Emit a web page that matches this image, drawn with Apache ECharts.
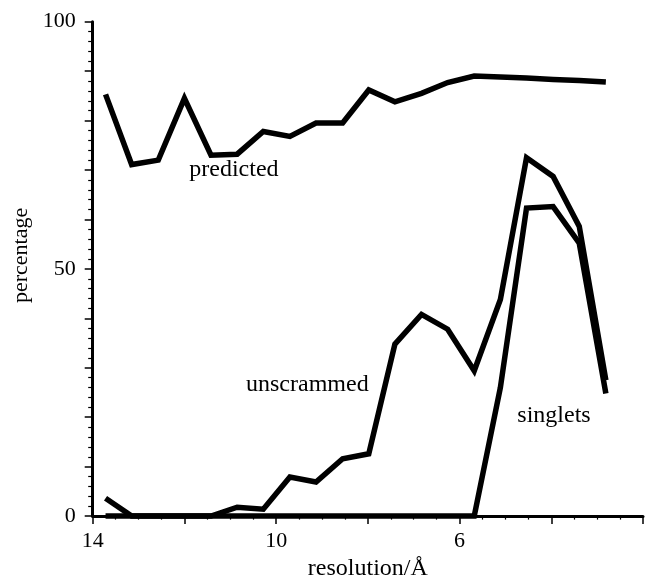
<!DOCTYPE html>
<html>
<head>
<meta charset="utf-8">
<script src="https://cdn.jsdelivr.net/npm/echarts@6/dist/echarts.min.js"></script>
<style>
html,body{margin:0;padding:0;background:#fff;}
#chart{width:646px;height:586px;}
</style>
</head>
<body>
<div id="chart"></div>
<script>
// resolution (Å) of each data point
const resolution = [13.72, 13.15, 12.57, 12.00, 11.42, 10.85, 10.28, 9.70, 9.13, 8.55, 7.98, 7.41, 6.83, 6.26, 5.68, 5.11, 4.54, 3.96, 3.39, 2.81];
const predicted  = [85.3, 71.1, 72.0, 84.5, 73.0, 73.2, 77.8, 76.8, 79.5, 79.5, 86.2, 83.8, 85.5, 87.7, 89.0, 88.8, 88.6, 88.3, 88.1, 87.8];
const unscrammed = [3.6, 0, 0, 0, 0, 1.8, 1.4, 7.9, 6.9, 11.6, 12.6, 34.8, 40.8, 37.8, 29.4, 43.8, 72.5, 68.7, 58.6, 27.5];
const singlets   = [0, 0, 0, 0, 0, 0, 0, 0, 0, 0, 0, 0, 0, 0, 0, 26.0, 62.3, 62.6, 55.2, 24.8];
const xTickLabels = [14, 10, 6];
const yTickLabels = [0, 50, 100];
const seriesNames = ['predicted', 'unscrammed', 'singlets'];

const FONT = 'Liberation Serif';
const chart = echarts.init(document.getElementById('chart'), null, {renderer: 'canvas'});

function pairs(ys) { return resolution.map((x, i) => [x, ys[i]]); }

function lineSeries(name, ys, labelCoord) {
  return {
    name: name,
    type: 'line',
    data: pairs(ys),
    symbol: 'none',
    clip: false,
    lineStyle: {color: '#000', width: 5.5, join: 'miter', miterLimit: 4, cap: 'butt'},
    animation: false,
    markPoint: {
      silent: true,
      symbol: 'circle',
      symbolSize: 0,
      label: {show: true, position: 'inside', formatter: name, color: '#000', fontFamily: FONT, fontSize: 24},
      data: [{coord: labelCoord}]
    }
  };
}

chart.setOption({
  backgroundColor: '#fff',
  animation: false,
  grid: {left: 92.7, top: 21.7, width: 582.6, height: 499.3, containLabel: false},
  xAxis: {
    type: 'value',
    inverse: true,
    min: 2, max: 14, interval: 2,
    name: 'resolution/Å',
    nameLocation: 'middle',
    nameGap: 40,
    nameTextStyle: {color: '#000', fontFamily: FONT, fontSize: 24},
    axisLine: {show: true, lineStyle: {color: '#000', width: 3}},
    axisTick: {show: true, inside: false, length: 8, lineStyle: {color: '#000', width: 1.5}},
    minorTick: {show: true, splitNumber: 4, length: 3.5, lineStyle: {color: '#000', width: 1.2}},
    axisLabel: {
      color: '#000', fontFamily: FONT, fontSize: 22, margin: 14,
      formatter: v => xTickLabels.indexOf(v) >= 0 ? String(v) : ''
    },
    splitLine: {show: false}
  },
  yAxis: {
    type: 'value',
    min: 0, max: 100, interval: 10,
    name: 'percentage',
    nameLocation: 'middle',
    nameGap: 60,
    nameRotate: 90,
    nameTextStyle: {color: '#000', fontFamily: FONT, fontSize: 22, padding: [0, 0, 0, 27]},
    axisLine: {show: true, lineStyle: {color: '#000', width: 3}},
    axisTick: {show: true, inside: false, length: 8, lineStyle: {color: '#000', width: 1.5}},
    minorTick: {show: true, splitNumber: 5, length: 4.5, lineStyle: {color: '#000', width: 1.2}},
    axisLabel: {
      color: '#000', fontFamily: FONT, fontSize: 22, margin: 17,
      formatter: v => yTickLabels.indexOf(v) >= 0 ? String(v) : ''
    },
    splitLine: {show: false}
  },
  series: [
    lineSeries(seriesNames[0], predicted, [10.92, 70.0]),
    lineSeries(seriesNames[1], unscrammed, [9.32, 26.6]),
    lineSeries(seriesNames[2], singlets, [3.94, 20.4])
  ]
});
</script>
</body>
</html>
